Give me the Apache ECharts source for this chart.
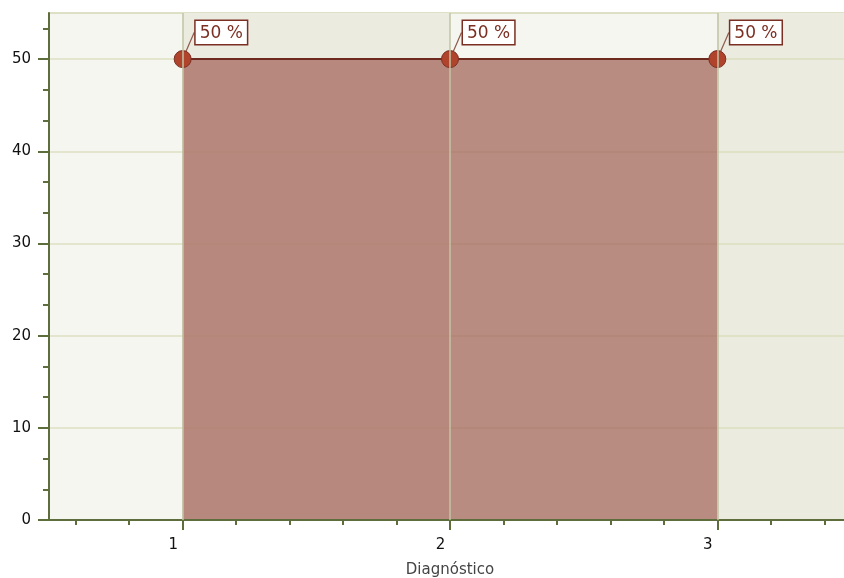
<!DOCTYPE html>
<html><head><meta charset="utf-8">
<script src="https://cdn.jsdelivr.net/npm/echarts@6/dist/echarts.min.js"></script>
<style>html,body{margin:0;padding:0;background:#fff;overflow:hidden}#c{width:844px;height:578px}</style>
</head><body><div id="c"></div>
<script>
const categories = [1, 2, 3];
const values = [50, 50, 50];
const pointLabels = ['50 %', '50 %', '50 %'];
const xTickValues = [1, 2, 3];
const xMinorTicks = [0.6, 0.8, 1.2, 1.4, 1.6, 1.8, 2.2, 2.4, 2.6, 2.8, 3.2, 3.4];
const yTickValues = [0, 10, 20, 30, 40, 50];
const yMinorTicks = [3.333, 6.667, 13.333, 16.667, 23.333, 26.667, 33.333, 36.667, 43.333, 46.667, 53.333];
const darkBands = [[1, 2], [3, 3.5]];
const xAxisName = 'Diagnóstico';

const AXIS = '#5d6e3c';
const FONT = 'DejaVu Sans';
const chart = echarts.init(document.getElementById('c'));
chart.setOption({
  animation: false,
  grid: { left: 49, top: 13, width: 802, height: 507, show: true, z: -1,
          containLabel: false, outerBoundsMode: 'none',
          backgroundColor: '#f6f6f1', borderColor: '#d3d7b4', borderWidth: 1.5 },
  xAxis: [
    { type: 'value', min: 0.5, max: 3.5, position: 'bottom', z: 4,
      name: xAxisName, nameLocation: 'middle', nameGap: 43,
      nameTextStyle: { fontFamily: FONT, fontSize: 15, color: '#444' },
      axisLine: { show: true, lineStyle: { color: AXIS, width: 2 } },
      axisTick: { show: true, customValues: xTickValues, length: 10, lineStyle: { color: AXIS, width: 2 } },
      axisLabel: { customValues: xTickValues, margin: 18, padding: [0, 19, 0, 0],
                   fontFamily: FONT, fontSize: 15, color: '#111' },
      splitLine: { show: false } },
    { type: 'value', min: 0.5, max: 3.5, position: 'bottom', z: 4,
      axisLine: { show: false },
      axisTick: { show: true, customValues: xMinorTicks, length: 5, lineStyle: { color: AXIS, width: 2 } },
      axisLabel: { show: false }, splitLine: { show: false } }
  ],
  yAxis: [
    { type: 'value', min: 0, max: 55, interval: 10, position: 'left', z: 2,
      axisLine: { show: true, lineStyle: { color: AXIS, width: 2 } },
      axisTick: { show: true, customValues: yTickValues, length: 11, lineStyle: { color: AXIS, width: 2 } },
      axisLabel: { customValues: yTickValues, margin: 18, fontFamily: FONT, fontSize: 15, color: '#111' },
      splitLine: { show: true, lineStyle: { color: '#dcdfc0', width: 1.5 } } },
    { type: 'value', min: 0, max: 55, position: 'left', z: 2,
      axisLine: { show: false },
      axisTick: { show: true, customValues: yMinorTicks, length: 6, lineStyle: { color: AXIS, width: 2 } },
      axisLabel: { show: false }, splitLine: { show: false } }
  ],
  series: [
    { type: 'line', data: [], z: 0, silent: true,
      markArea: { silent: true, itemStyle: { color: '#ecebe0', opacity: 1 },
        data: darkBands.map(b => [{ xAxis: b[0] }, { xAxis: b[1] }]) } },
    { type: 'line', data: [], z: 1, silent: true,
      markLine: { silent: true, symbol: ['none', 'none'], label: { show: false },
        lineStyle: { color: '#c2c4a4', width: 1.5, type: 'solid' },
        data: xTickValues.map(v => ({ xAxis: v })) } },
    { type: 'line', z: 3,
      data: categories.map((c, i) => [c, values[i]]),
      symbol: 'circle', symbolSize: 17,
      itemStyle: { color: '#b0432c', borderColor: '#7b2f22', borderWidth: 1 },
      lineStyle: { color: '#6f2a1f', width: 2 },
      areaStyle: { color: 'rgb(165,106,94)', opacity: 0.76 },
      label: { show: true, formatter: p => pointLabels[p.dataIndex], position: [22, -29],
               fontFamily: FONT, fontSize: 17, lineHeight: 18, color: '#7b2f22',
               backgroundColor: '#ffffff', borderColor: '#7b2f22', borderWidth: 1.5, padding: [3, 4, 2, 4] },
      labelLine: { show: true, lineStyle: { color: '#8c5a4c', width: 1.2 } }
    }
  ]
});
</script></body></html>
